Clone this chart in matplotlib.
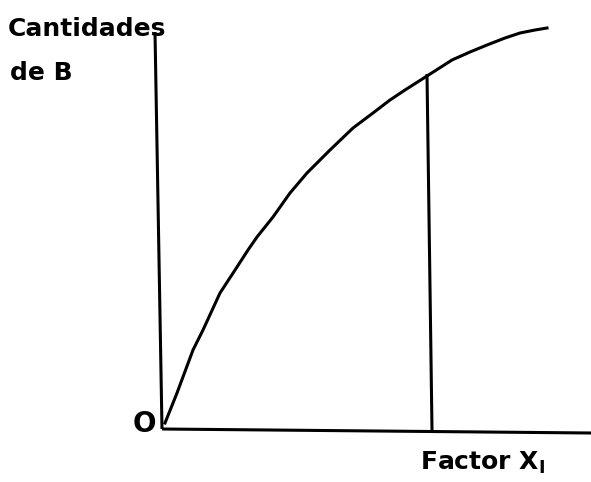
import matplotlib.pyplot as plt

# pixel coordinates (y grows downward)
curve_x = [165, 177, 193, 203, 220, 237, 248, 257, 273, 290, 307, 330,
           353, 373, 390, 405, 427, 452, 470, 487, 505, 520, 535, 547]
curve_y = [423, 393, 350, 330, 293, 267, 250, 237, 217, 193, 173, 150,
           128, 113, 100, 90, 76, 60, 52, 45, 38, 33, 30, 28]

yaxis_x = [155, 162]
yaxis_y = [32, 429]
xaxis_x = [162, 591]
xaxis_y = [429, 433]
vline_x = [427, 432]
vline_y = [74, 430]

ylabel_lines = ["Cantidades", "de B"]
xlabel = "Factor X$_{\\mathregular{I}}$"
origin_label = "O"

fig = plt.figure(figsize=(5.91, 4.82), dpi=100)
ax = fig.add_axes([0, 0, 1, 1])
ax.set_xlim(0, 591)
ax.set_ylim(482, 0)
ax.axis('off')

lw = 2.2
ax.plot(yaxis_x, yaxis_y, color='black', lw=lw, solid_capstyle='butt')
ax.plot(xaxis_x, xaxis_y, color='black', lw=lw, solid_capstyle='butt')
ax.plot(vline_x, vline_y, color='black', lw=lw, solid_capstyle='butt')
ax.plot(curve_x, curve_y, color='black', lw=lw, solid_joinstyle='round')

font = dict(family='DejaVu Sans', fontweight='bold', color='black')
ax.text(8, 36, ylabel_lines[0], fontsize=18, va='baseline', ha='left', **font)
ax.text(10, 80, ylabel_lines[1], fontsize=18, va='baseline', ha='left', **font)
ax.text(420, 470, xlabel, fontsize=18, va='baseline', ha='left', **font)
ax.text(144, 424, origin_label, fontsize=20, va='center', ha='center', **font)

fig.savefig('out.png', dpi=100)
